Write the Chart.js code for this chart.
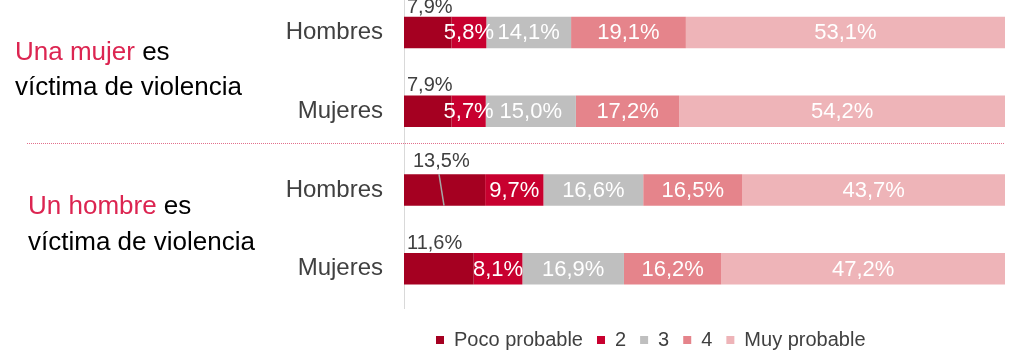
<!DOCTYPE html>
<html>
<head>
<meta charset="utf-8">
<script src="https://cdn.jsdelivr.net/npm/chart.js@4.4.1/dist/chart.umd.min.js"></script>
<style>
    html, body { margin: 0; padding: 0; background: #fff; overflow: hidden; height: 360px; }
    /* the original plot area starts a few px above the picture, so the canvas is pulled up */
    #wrap { position: relative; top: -7px; width: 1014px; height: 367px; }
</style>
</head>
<body>
<div id="wrap"><canvas id="chart"></canvas></div>
<script>
var categories = ['Hombres', 'Mujeres', 'Hombres', 'Mujeres'];
var seriesNames = ['Poco probable', '2', '3', '4', 'Muy probable'];
var pocoProbable = [7.9, 7.9, 13.5, 11.6];
var dos = [5.8, 5.7, 9.7, 8.1];
var tres = [14.1, 15.0, 16.6, 16.9];
var cuatro = [19.1, 17.2, 16.5, 16.2];
var muyProbable = [53.1, 54.2, 43.7, 47.2];
var groupTitles = [
    ['Una mujer', ' es', 'víctima de violencia'],
    ['Un hombre', ' es', 'víctima de violencia']
];

var seriesColors = ['#A50021', '#C8002F', '#BFBFBF', '#E5848B', '#EEB4B8'];
var FONT = "'Liberation Sans', Arial, sans-serif";

// where each group title sits: left x, and baselines relative to the group's middle
var titleStyle = [
    { x: 15, line1: -12, line2: 23 },
    { x: 28, line1: -15, line2: 21 }
];

function fmt(v) {
    return v.toFixed(1).replace('.', ',') + '%';
}

// value labels on / above the bars
var barLabels = {
    id: 'barLabels',
    afterDatasetsDraw: function (chart) {
        var ctx = chart.ctx;
        ctx.save();
        chart.data.datasets.forEach(function (ds, i) {
            var meta = chart.getDatasetMeta(i);
            meta.data.forEach(function (bar, j) {
                var txt = fmt(ds.data[j]);
                var top = bar.y - bar.height / 2;
                if (i === 0) {
                    // first segment is labelled outside, above the bar
                    var leader = (j === 2);
                    ctx.font = '20px ' + FONT;
                    ctx.fillStyle = '#404040';
                    ctx.textAlign = 'left';
                    ctx.textBaseline = 'alphabetic';
                    ctx.fillText(txt, bar.base + (leader ? 9 : 3), top - (leader ? 7 : 4));
                    if (leader) {
                        ctx.strokeStyle = '#A6A6A6';
                        ctx.lineWidth = 1.5;
                        ctx.beginPath();
                        ctx.moveTo(bar.base + 35, top);
                        ctx.lineTo(bar.base + 40, top + bar.height);
                        ctx.stroke();
                    }
                } else {
                    ctx.font = '22px ' + FONT;
                    ctx.fillStyle = '#FFFFFF';
                    ctx.textAlign = 'center';
                    ctx.textBaseline = 'middle';
                    ctx.fillText(txt, (bar.x + bar.base) / 2, bar.y + 1);
                }
            });
        });
        ctx.restore();
    }
};

// group titles on the left and the dotted separator
var groupDecor = {
    id: 'groupDecor',
    afterDraw: function (chart) {
        var ctx = chart.ctx;
        var y = chart.scales.y;
        var area = chart.chartArea;
        ctx.save();
        ctx.font = '26px ' + FONT;
        ctx.textAlign = 'left';
        ctx.textBaseline = 'alphabetic';
        groupTitles.forEach(function (g, k) {
            var mid = (y.getPixelForValue(2 * k) + y.getPixelForValue(2 * k + 1)) / 2;
            var st = titleStyle[k];
            ctx.fillStyle = '#DC2551';
            ctx.fillText(g[0], st.x, mid + st.line1);
            ctx.fillStyle = '#000000';
            ctx.fillText(g[1], st.x + ctx.measureText(g[0]).width, mid + st.line1);
            ctx.fillText(g[2], st.x, mid + st.line2);
        });

        var sepY = Math.round((y.getPixelForValue(1) + y.getPixelForValue(2)) / 2 - 8) + 0.5;
        ctx.strokeStyle = '#E2708C';
        ctx.lineWidth = 1;
        ctx.setLineDash([1, 1]);
        ctx.beginPath();
        ctx.moveTo(27, sepY);
        ctx.lineTo(area.right, sepY);
        ctx.stroke();
        ctx.restore();
    }
};

// nudge the legend to where the original puts it
var legendShift = {
    id: 'legendShift',
    afterLayout: function (chart) {
        if (chart.legend) chart.legend.left += 18;
    }
};

var datasets = [pocoProbable, dos, tres, cuatro, muyProbable].map(function (values, i) {
    return {
        label: seriesNames[i],
        data: values,
        backgroundColor: seriesColors[i],
        borderWidth: 0,
        categoryPercentage: 1,
        barPercentage: 0.4
    };
});

Chart.defaults.font.family = FONT;
Chart.defaults.color = '#404040';

var chart = new Chart(document.getElementById('chart').getContext('2d'), {
    type: 'bar',
    data: {
        labels: categories,
        datasets: datasets
    },
    options: {
        indexAxis: 'y',
        responsive: true,
        maintainAspectRatio: false,
        animation: false,
        layout: {
            padding: { top: 0, right: 9, bottom: 0, left: 0 }
        },
        plugins: {
            legend: {
                position: 'bottom',
                align: 'start',
                fullSize: false,
                labels: {
                    boxWidth: 8,
                    boxHeight: 8,
                    padding: 14,
                    color: '#404040',
                    font: { size: 20 }
                }
            },
            tooltip: { enabled: false }
        },
        scales: {
            x: {
                stacked: true,
                min: 0,
                max: 100,
                // hidden axis, kept only as a small gap above the legend
                ticks: { display: false },
                grid: { display: false },
                border: { display: false },
                afterFit: function (scale) {
                    scale.height = 8;
                }
            },
            y: {
                stacked: true,
                grid: { drawOnChartArea: false, drawTicks: false },
                border: { color: '#D9D9D9' },
                ticks: {
                    padding: 21,
                    color: '#404040',
                    font: { size: 24 }
                },
                afterFit: function (scale) {
                    scale.width = 404;
                    scale.paddingTop = 0;
                    scale.paddingBottom = 0;
                }
            }
        }
    },
    plugins: [barLabels, groupDecor, legendShift]
});
</script>
</body>
</html>
